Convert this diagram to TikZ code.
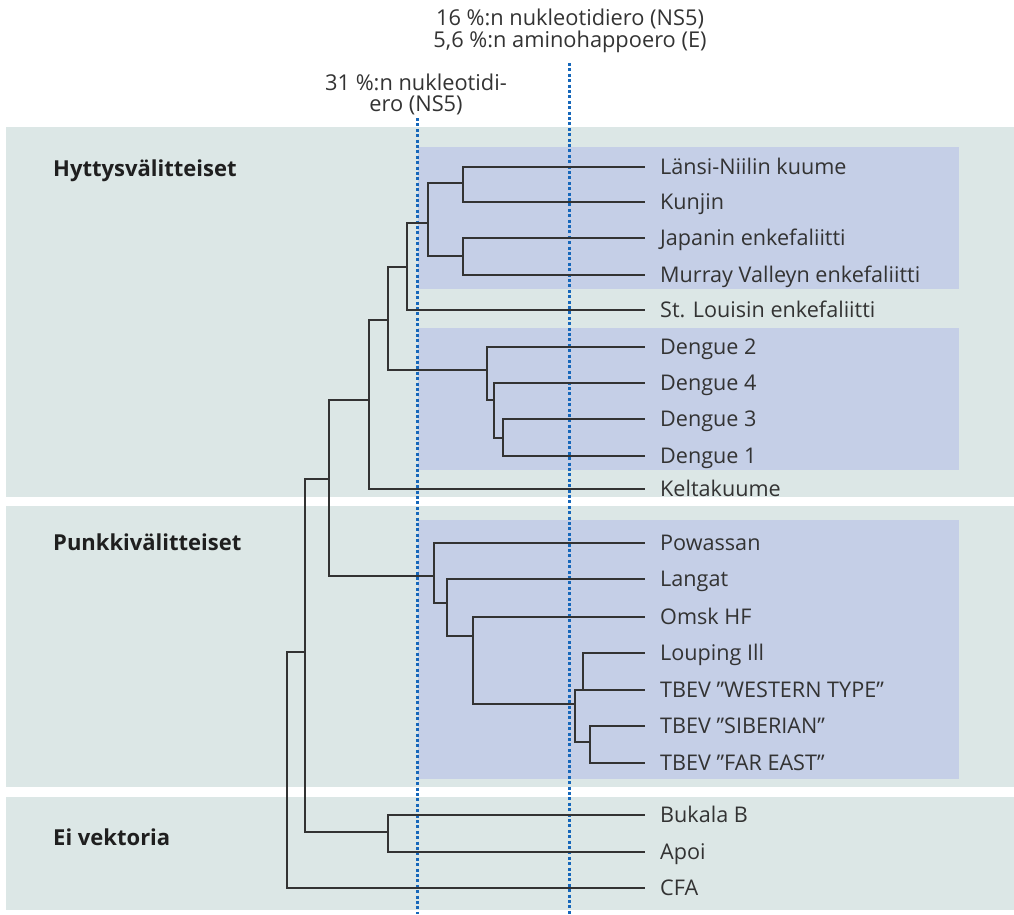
\documentclass[tikz,border=0pt]{standalone}
\usepackage{fontspec}
\setmainfont{Open Sans}
\usepackage{xcolor}
\usepackage{tikz}
\definecolor{bandgreen}{HTML}{DCE7E6}
\definecolor{boxblue}{HTML}{C5CFE7}
\definecolor{cutblue}{HTML}{1667BA}
\definecolor{treegray}{HTML}{333333}
\newcommand*{\xBand}{6}
\newcommand*{\xEnd}{1014}
\newcommand*{\xBoxL}{418}
\newcommand*{\xBoxR}{959}
\newcommand*{\xLeaf}{645}
\newcommand*{\yBottom}{914}

\tikzset{
  leaf/.style={anchor=west,inner xsep=15pt,inner ysep=0pt,text height=15pt,
    text depth=0pt,font=\fontsize{21.6}{21.6}\selectfont,text=treegray},
  group/.style={anchor=base west,inner sep=0pt,font=\fontsize{22}{22}\selectfont\bfseries,
    text=black!88},
  cutlabel/.style={align=center,inner sep=0pt,font=\fontsize{21.8}{21.5}\selectfont,
    text=treegray},
  branch/.style={draw=treegray,line width=1.8pt},
  cutline/.style={draw=cutblue,line width=3pt,dash pattern=on 3pt off 2.4pt}
}

\begin{document}
\begin{tikzpicture}[x=1pt,y=-1pt]
    \useasboundingbox (0,0) rectangle (1014,914);

    % backgrounds
    \foreach \yA/\yB in {127.3/497,506/787,797/910} {
      \fill [bandgreen] (\xBand,\yA) rectangle (\xEnd,\yB);
    }
    \foreach \yA/\yB in {147/289,328/470,520/779} {
      \fill [boxblue] (\xBoxL,\yA) rectangle (\xBoxR,\yB);
    }

    % group titles
    \node [group] (mosq) at (53,176.7) {Hyttysvälitteiset};
    \node [group] (tick) at (53,550) {Punkkivälitteiset};
    \node [group] (novec) at (53,845.7) {Ei vektoria};

    % distance marks (base = last line)
    \node [cutlabel,anchor=base] (cut31) at (416,111.7) {31 \%:n nukleotidi-\\ero (NS5)};
    \node [cutlabel,anchor=base] (cut16) at (570,47.3) {16 \%:n nukleotidiero (NS5)\\5,6 \%:n aminohappoero (E)};
    \coordinate (c31top) at (417,118);
    \coordinate (c31bot) at (417,\yBottom);
    \coordinate (c16top) at (569,63);
    \coordinate (c16bot) at (569,\yBottom);
    \draw [cutline] (c31top) -- (c31bot);
    \draw [cutline] (c16top) -- (c16bot);

    % leaves
    \foreach \n/\y/\t in {wn/166.7/Länsi-Niilin kuume, ku/202.3/Kunjin,
        ja/237.7/Japanin enkefaliitti, mv/274.7/Murray Valleyn enkefaliitti,
        sl/310/St. Louisin enkefaliitti, dtwo/346.7/Dengue 2, dfour/382.7/Dengue 4,
        dthree/418.7/Dengue 3, done/455.7/Dengue 1, kk/489.3/Keltakuume,
        po/542.7/Powassan, la/579/Langat, om/617.3/Omsk HF, lo/653.3/Louping Ill,
        tw/690/TBEV ”WESTERN TYPE”, ts/726/TBEV ”SIBERIAN”, tf/763/TBEV ”FAR EAST”,
        bu/814.7/Bukala B, ap/852/Apoi, cf/887.7/CFA} {
      \node [leaf] (\n) at (\xLeaf,\y) {\t};
    }

    % inner nodes
    \coordinate (jWK) at (462.7,182.7);
    \coordinate (jJM) at (462.7,256.3);
    \coordinate (jJE) at (427.7,222.7);
    \coordinate (jSL) at (406.7,266.7);
    \coordinate (jDtf) at (502.7,437.7);
    \coordinate (jDf) at (494.3,400);
    \coordinate (jDt) at (486.7,369.7);
    \coordinate (jMD) at (387.7,320);
    \coordinate (jYF) at (369.3,400);
    \coordinate (jTick) at (434.3,576.3);
    \coordinate (jLa) at (446.7,603);
    \coordinate (jOm) at (473.3,636);
    \coordinate (jTB) at (575,704);
    \coordinate (jLo) at (582.7,690);
    \coordinate (jSF) at (590.3,741.7);
    \coordinate (jMT) at (329.3,479);
    \coordinate (jBA) at (387.7,832.3);
    \coordinate (jVec) at (305.3,652);
    \coordinate (jRoot) at (286.7,770);

    % branches
    \foreach \a/\b in {jWK/wn.west,jWK/ku.west,jJM/ja.west,jJM/mv.west,
        jJE/jWK,jJE/jJM,jSL/jJE,jSL/sl.west,
        jDtf/dthree.west,jDtf/done.west,jDf/dfour.west,jDf/jDtf,
        jDt/dtwo.west,jDt/jDf,jMD/jSL,jMD/jDt,jYF/jMD,jYF/kk.west,
        jTick/po.west,jTick/jLa,jLa/la.west,jLa/jOm,jOm/om.west,jOm/jTB,
        jTB/tw.west,jTB/jSF,jLo/lo.west,jSF/ts.west,jSF/tf.west,
        jMT/jYF,jMT/jTick,jBA/bu.west,jBA/ap.west,
        jVec/jMT,jVec/jBA,jRoot/jVec,jRoot/cf.west} {
      \draw [branch] (\a) |- (\b);
    }
  \end{tikzpicture}
\end{document}
